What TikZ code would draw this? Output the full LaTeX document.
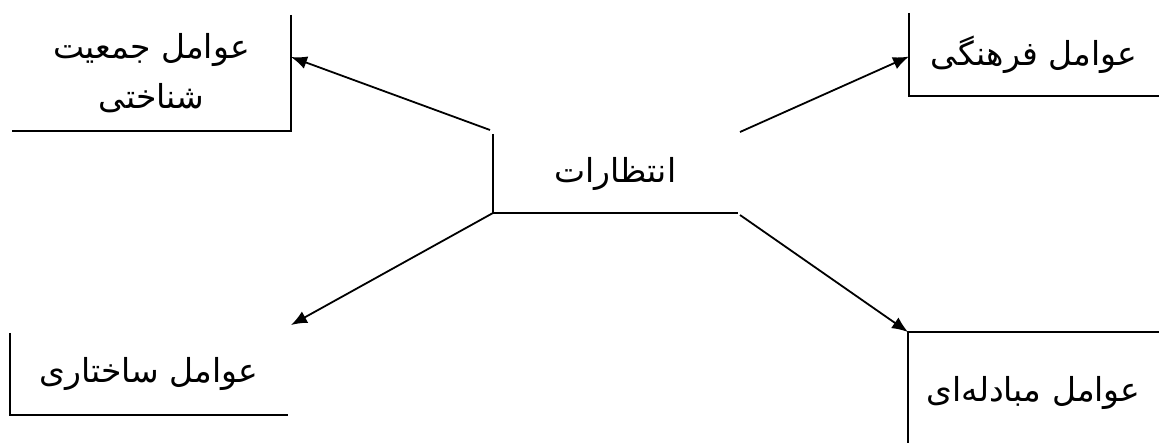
\documentclass[tikz,border=0pt]{standalone}
\usepackage{fontspec}
\newfontfamily\arabicfont[Script=Arabic]{DejaVu Sans}
\TeXXeTstate=1
\usetikzlibrary{arrows.meta}
\begin{document}
\begin{tikzpicture}[x=1pt,y=-1pt,
  box/.style={inner sep=0pt,outer sep=0pt,font=\arabicfont\fontsize{33}{50}\selectfont,align=center},
  edge/.style={line width=2pt},
  conn/.style={line width=1.8pt,-{Latex[length=16pt,width=13pt]}}]
\useasboundingbox (0,0) rectangle (1159,443);
\node[box,minimum width=279pt,minimum height=116pt] (tl) at (151.5,73) {\beginR عوامل جمعیت\endR\\\beginR شناختی\endR};
\node[box,minimum width=250pt,minimum height=83pt] (tr) at (1034,54.5) {\beginR عوامل فرهنگی\endR};
\node[box,minimum width=245pt,minimum height=79pt] (c) at (615.5,173.5) {\beginR انتظارات\endR};
\node[box,minimum width=278pt,minimum height=82pt] (bl) at (149,374) {\beginR عوامل ساختاری\endR};
\node[box,minimum width=251pt,minimum height=122pt] (br) at (1033.5,393) {\beginR عوامل مبادله‌ای\endR};
\draw[edge] (tl.north east) -- (tl.south east) -- (tl.south west);
\draw[edge] (tr.north west) -- (tr.south west) -- (tr.south east);
\draw[edge] (c.north west) -- (c.south west) -- (c.south east);
\draw[edge] (bl.north west) -- (bl.south west) -- (bl.south east);
\draw[edge] (br.north east) -- (br.north west) -- (br.south west);
\draw[conn] ([shift={(-3pt,4pt)}]c.north west) -- ([yshift=16pt]tl.east);
\draw[conn] ([shift={(2pt,2pt)}]c.north east) -- ([yshift=-2pt]tr.west);
\draw[conn] (c.south west) -- ([shift={(3pt,8pt)}]bl.north east);
\draw[conn] ([shift={(2pt,-2pt)}]c.south east) -- (br.north west);
\end{tikzpicture}
\end{document}
